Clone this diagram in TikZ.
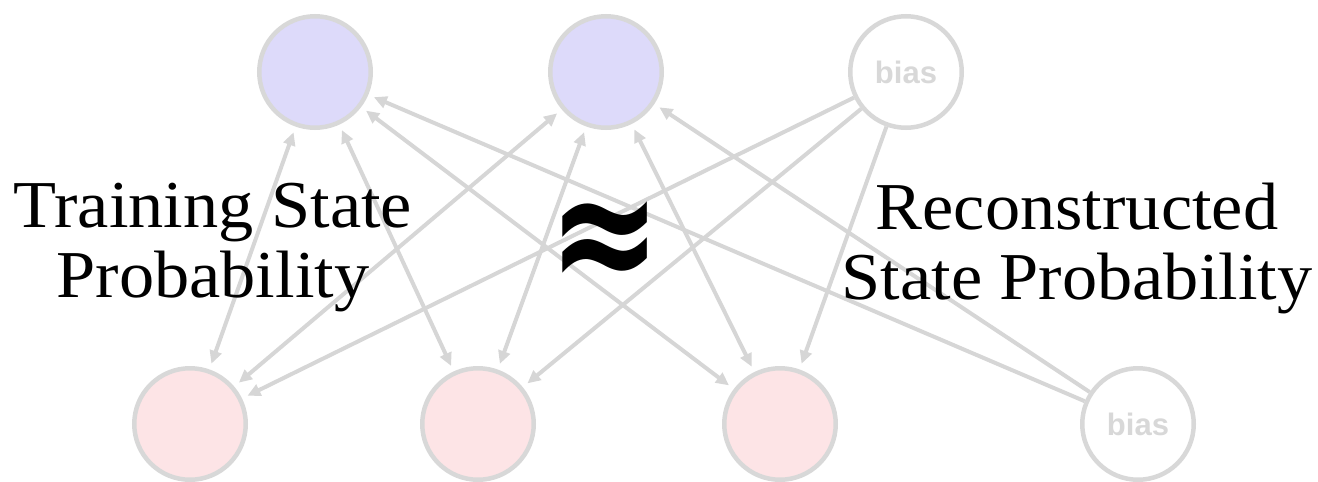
\documentclass[tikz,border=0pt]{standalone}
\usepackage{fontspec}
\setmainfont[FakeStretch=1.05]{Liberation Serif}
\newfontfamily\biasfont{Liberation Sans}
\newfontfamily\symfont{DejaVu Sans}
\usetikzlibrary{arrows.meta}
\definecolor{edgegray}{RGB}{214,214,214}
\definecolor{ringgray}{RGB}{216,216,216}
\definecolor{hidfill}{RGB}{221,218,250}
\definecolor{visfill}{RGB}{253,228,230}
\begin{document}
\begin{tikzpicture}[x=1pt,y=-1pt,
  unit/.style={circle, draw=ringgray, line width=4.5pt, minimum size=111.5pt, inner sep=0pt},
  hidden/.style={unit, fill=hidfill},
  visible/.style={unit, fill=visfill},
  biasunit/.style={unit, fill=white, text=ringgray, font=\biasfont\bfseries\fontsize{31}{31}\selectfont},
  conn/.style={draw=edgegray, line width=4pt, >={Triangle[length=13pt,width=12pt]}, shorten >=6pt},
  twoway/.style={conn, <->, shorten <=6pt},
  oneway/.style={conn, ->},
  label/.style={font=\fontsize{67}{70}\selectfont, align=center, text=black}
]
\useasboundingbox (0,0) rectangle (1318,482);
% units
\node[hidden] (h1) at (315,72) {};
\node[hidden] (h2) at (606,72) {};
\node[biasunit] (bt) at (906,72) {bias};
\node[visible] (v1) at (190,424) {};
\node[visible] (v2) at (478,424) {};
\node[visible] (v3) at (780,424) {};
\node[biasunit] (bb) at (1138,424) {bias};
% connections
\foreach \h in {h1,h2} {
  \foreach \v in {v1,v2,v3} {
    \draw[twoway] (\h) -- (\v);
  }
}
\foreach \v in {v1,v2,v3} { \draw[oneway] (bt) -- (\v); }
\foreach \h in {h1,h2} { \draw[oneway] (bb) -- (\h); }
% texts
\node[label] (lt) at (213,248) {Training State\\Probability};
\node[label] (rt) at (1077,248) {Reconstructed\\State Probability};
\node[font=\symfont\bfseries\fontsize{135}{135}\selectfont, yscale=1.3] (approx) at (605,247) {≈};
\end{tikzpicture}
\end{document}
